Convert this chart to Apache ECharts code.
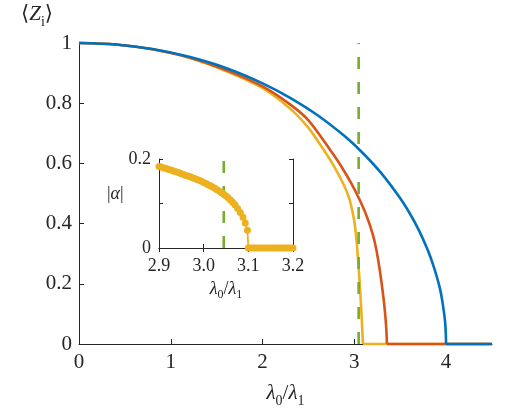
<!DOCTYPE html>
<html>
<head>
<meta charset="utf-8">
<script src="https://cdn.jsdelivr.net/npm/echarts@6.0.0/dist/echarts.min.js"></script>
<style>
  html, body { margin: 0; padding: 0; background: #fff; }
  #chart { width: 532px; height: 413px; }
</style>
</head>
<body>
<div id="chart"></div>
<script>
// main plot: <Z_i> against lambda0/lambda1 (curved part, then flat at zero up to xMax)
const blueX = [0, 0.4, 0.8, 1.2, 1.6, 2.0, 2.3, 2.6, 2.9, 3.1, 3.3, 3.5, 3.6, 3.7, 3.8, 3.87, 3.93, 3.96, 3.99, 4.0]
const blueY = [1, 0.995, 0.98, 0.954, 0.917, 0.866, 0.818, 0.76, 0.689, 0.632, 0.565, 0.484, 0.436, 0.38, 0.312, 0.252, 0.188, 0.14, 0.07, 0]

const redX = [0, 0.4, 0.8, 1.2, 1.6, 2.0, 2.3, 2.5, 2.73, 2.85, 2.967, 3.05, 3.137, 3.2, 3.24, 3.28, 3.32, 3.34, 3.35, 3.355]
const redY = [1, 0.995, 0.979, 0.952, 0.91, 0.856, 0.796, 0.743, 0.648, 0.594, 0.534, 0.484, 0.423, 0.365, 0.313, 0.24, 0.147, 0.085, 0.04, 0]

const yellowX = [0, 0.4, 0.8, 1.2, 1.6, 2.0, 2.3, 2.5, 2.66, 2.77, 2.877, 2.94, 2.985, 3.01, 3.028, 3.045, 3.058, 3.068, 3.076, 3.083, 3.089, 3.094]
const yellowY = [1, 0.995, 0.979, 0.951, 0.907, 0.85, 0.782, 0.718, 0.648, 0.595, 0.534, 0.488, 0.432, 0.385, 0.33, 0.262, 0.205, 0.155, 0.11, 0.07, 0.033, 0]

const xMax = 4.5
const criticalX = 3.047
const mainXTicks = [0, 1, 2, 3, 4]

// inset: |alpha| against lambda0/lambda1
const alphaX = [2.900, 2.905, 2.910, 2.915, 2.920, 2.925, 2.930, 2.935, 2.940, 2.945,
  2.950, 2.955, 2.960, 2.965, 2.970, 2.975, 2.980, 2.985, 2.990, 2.995,
  3.000, 3.005, 3.010, 3.015, 3.020, 3.025, 3.030, 3.035, 3.040, 3.045,
  3.050, 3.055, 3.060, 3.065, 3.070, 3.076, 3.082, 3.088, 3.093, 3.098,
  3.100, 3.105, 3.110, 3.115, 3.120, 3.125, 3.130, 3.135, 3.140, 3.145,
  3.150, 3.155, 3.160, 3.165, 3.170, 3.175, 3.180, 3.185, 3.190, 3.195, 3.200]
const alphaY = [0.183, 0.182, 0.180, 0.179, 0.177, 0.176, 0.174, 0.172, 0.171, 0.169,
  0.167, 0.165, 0.163, 0.162, 0.160, 0.158, 0.156, 0.154, 0.152, 0.150,
  0.147, 0.145, 0.142, 0.140, 0.137, 0.134, 0.131, 0.128, 0.124, 0.121,
  0.117, 0.113, 0.108, 0.103, 0.097, 0.089, 0.080, 0.069, 0.056, 0.040,
  0, 0, 0, 0, 0, 0, 0, 0, 0, 0,
  0, 0, 0, 0, 0, 0, 0, 0, 0, 0, 0]
const insetCriticalX = 3.045

const serif = '"Liberation Serif", "DejaVu Serif", serif'
const ink = '#262626'
const colors = { blue: '#0072BD', red: '#D95319', yellow: '#EDB120', green: '#77AC30' }

function pairs(xs, ys) {
  return xs.map((x, i) => [x, ys[i]])
}

function richText(size) {
  return {
    it: { fontFamily: serif, fontStyle: 'italic', fontSize: size, lineHeight: size + 3, verticalAlign: 'top', color: ink },
    rm: { fontFamily: serif, fontSize: size, lineHeight: size + 3, verticalAlign: 'top', color: ink },
    sub: { fontFamily: serif, fontSize: Math.round(size * 0.68), lineHeight: Math.round(size * 0.68), padding: [Math.round(size * 0.5), 0, 0, 0], verticalAlign: 'top', color: ink }
  }
}

const lambdaName = '{it|λ}{sub|0}{rm|/}{it|λ}{sub|1}'

const axisLine = { show: true, lineStyle: { color: ink, width: 1 } }

function curve(xs, ys, color) {
  const end = xs[xs.length - 1]
  return [
    {
      type: 'line', xAxisIndex: 0, yAxisIndex: 0, clip: false, showSymbol: false,
      smooth: 0.3,
      data: pairs(xs, ys),
      lineStyle: { color: color, width: 2.6, join: 'round' }
    },
    {
      type: 'line', xAxisIndex: 0, yAxisIndex: 0, clip: false, showSymbol: false,
      data: [[end, 0], [xMax, 0]],
      lineStyle: { color: color, width: 2.6 }
    }
  ]
}

const chart = echarts.init(document.getElementById('chart'))
chart.setOption({
  animation: false,
  textStyle: { fontFamily: serif },
  grid: [
    { left: 79, top: 43, right: 40, bottom: 69 },
    { left: 159, top: 159, width: 134, height: 89, show: true, backgroundColor: '#fff', borderWidth: 0 }
  ],
  xAxis: [
    {
      gridIndex: 0,
      type: 'value',
      min: 0,
      max: xMax,
      interval: 1,
      axisLine: axisLine,
      axisTick: { inside: true, length: 5, customValues: mainXTicks, lineStyle: { color: ink } },
      axisLabel: { customValues: mainXTicks, margin: 8, fontFamily: serif, fontSize: 21, color: ink },
      splitLine: { show: false },
      name: lambdaName,
      nameLocation: 'middle',
      nameGap: 39,
      nameTextStyle: { rich: richText(21) }
    },
    {
      gridIndex: 1,
      type: 'value',
      min: 2.9,
      max: 3.2,
      interval: 0.1,
      axisLine: axisLine,
      axisTick: { inside: true, length: 4, lineStyle: { color: ink } },
      axisLabel: { margin: 9, fontFamily: serif, fontSize: 18, color: ink, formatter: v => v.toFixed(1) },
      splitLine: { show: false },
      name: lambdaName,
      nameLocation: 'middle',
      nameGap: 32,
      nameTextStyle: { rich: richText(18) }
    },
    {
      gridIndex: 1,
      type: 'value',
      position: 'top',
      min: 2.9,
      max: 3.2,
      interval: 0.1,
      axisLine: axisLine,
      axisTick: { inside: true, length: 4, lineStyle: { color: ink } },
      axisLabel: { show: false },
      splitLine: { show: false }
    }
  ],
  yAxis: [
    {
      gridIndex: 0,
      type: 'value',
      min: 0,
      max: 1,
      interval: 0.2,
      axisLine: axisLine,
      axisTick: { inside: true, length: 5, lineStyle: { color: ink } },
      axisLabel: { margin: 7, fontFamily: serif, fontSize: 21, color: ink },
      splitLine: { show: false },
      name: '{rm|⟨}{it|Z}{sub|i}{rm|⟩}',
      nameLocation: 'end',
      nameGap: 15,
      nameTextStyle: { align: 'right', padding: [0, 26, 0, 0], rich: richText(21) }
    },
    {
      gridIndex: 1,
      type: 'value',
      min: 0,
      max: 0.2,
      interval: 0.1,
      axisLine: axisLine,
      axisTick: { inside: true, length: 4, lineStyle: { color: ink } },
      axisLabel: { margin: 8, fontFamily: serif, fontSize: 18, color: ink, formatter: v => (v === 0 ? '0' : v > 0.15 ? '0.2' : '') },
      splitLine: { show: false },
      name: '{rm||}{it|α}{rm||}',
      nameLocation: 'middle',
      nameRotate: 0,
      nameGap: 27,
      nameTextStyle: { padding: [0, 0, 16, 0], rich: richText(18) }
    },
    {
      gridIndex: 1,
      type: 'value',
      position: 'right',
      min: 0,
      max: 0.2,
      interval: 0.1,
      axisLine: axisLine,
      axisTick: { inside: true, length: 4, lineStyle: { color: ink } },
      axisLabel: { show: false },
      splitLine: { show: false }
    }
  ],
  series: [
    ...curve(yellowX, yellowY, colors.yellow),
    ...curve(redX, redY, colors.red),
    ...curve(blueX, blueY, colors.blue),
    {
      type: 'line', xAxisIndex: 0, yAxisIndex: 0, clip: false, showSymbol: false,
      data: [[criticalX, 0], [criticalX, 1]],
      lineStyle: { color: colors.green, width: 2.6, type: [12, 13] }
    },
    {
      type: 'line', xAxisIndex: 1, yAxisIndex: 1, showSymbol: false,
      data: [[insetCriticalX, 0], [insetCriticalX, 0.2]],
      lineStyle: { color: colors.green, width: 2.6, type: [12, 13] }
    },
    {
      type: 'line', xAxisIndex: 1, yAxisIndex: 1, clip: false,
      symbol: 'circle', symbolSize: 7, showAllSymbol: true,
      data: pairs(alphaX, alphaY),
      itemStyle: { color: colors.yellow },
      lineStyle: { color: colors.yellow, width: 1.8 }
    }
  ]
})
</script>
</body>
</html>
